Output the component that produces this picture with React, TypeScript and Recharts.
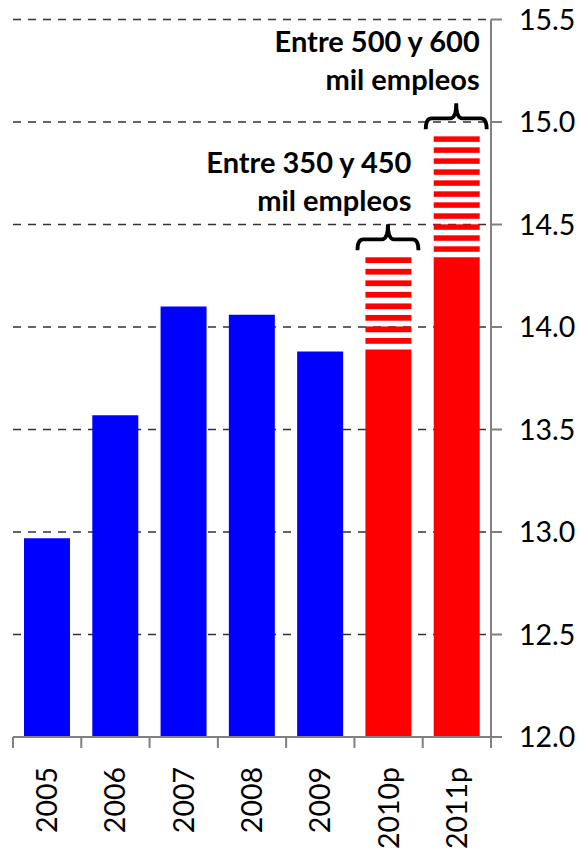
import React from 'react';
import { BarChart, Bar, XAxis, YAxis, CartesianGrid, Cell, LabelList } from 'recharts';

const years = ['2005', '2006', '2007', '2008', '2009', '2010p', '2011p'];
const employment = [12.97, 13.57, 14.1, 14.06, 13.88, 13.89, 14.34];
const rangeSpan = [0, 0, 0, 0, 0, 0.45, 0.59];
const isForecast = [false, false, false, false, false, true, true];
const noteTop = ['', '', '', '', '', 'Entre 350 y 450', 'Entre 500 y 600'];
const noteBottom = ['', '', '', '', '', 'mil empleos', 'mil empleos'];
const yTicks = [12, 12.5, 13, 13.5, 14, 14.5, 15, 15.5];

const BLUE = '#0000ff';
const RED = '#ff0000';
const AXIS = '#808080';
const FONT = 'Lato, "Open Sans", sans-serif';

const data = years.map((year, i) => ({
  year,
  employment: employment[i],
  range: rangeSpan[i],
}));

// red/white horizontal stripes for the forecast range
const StripedBar = (props: any) => {
  const { x, y, width, height } = props;
  if (!height || height <= 0) return null;
  const n = Math.max(1, Math.round(height / 11.3));
  const step = height / n;
  return (
    <g>
      {Array.from({ length: n }, (_, i) => (
        <rect key={i} x={x} y={y + i * step} width={width} height={step * 0.5} fill={RED} />
      ))}
    </g>
  );
};

// curly brace + two-line note above a striped bar
const RangeNote = (props: any) => {
  const { x, y, width, index } = props;
  const top = noteTop[index];
  if (!top) return null;
  const L = x - 8;
  const R = x + width + 7;
  const C = (L + R) / 2;
  const B = y - 7;
  const M = y - 18;
  const T = y - 33;
  const r = 6;
  const d = `M${L},${B} Q${L},${M} ${L + r},${M} L${C - r},${M} Q${C},${M} ${C},${T} Q${C},${M} ${C + r},${M} L${R - r},${M} Q${R},${M} ${R},${B}`;
  return (
    <g>
      <path d={d} fill="none" stroke="#000" strokeWidth={3.8} />
      <text x={x + width} y={y - 84} textAnchor="end" fontSize={29} fontWeight="bold" fontFamily={FONT} fill="#000">
        {top}
      </text>
      <text x={x + width} y={y - 46} textAnchor="end" fontSize={29} fontWeight="bold" fontFamily={FONT} fill="#000">
        {noteBottom[index]}
      </text>
    </g>
  );
};

const YearTick = (props: any) => {
  const { x, y, payload, index } = props;
  const half = payload && payload.offset ? payload.offset : 34;
  const ly = y + 30;
  return (
    <g>
      <line x1={x - half} y1={y} x2={x - half} y2={y + 11} stroke={AXIS} strokeWidth={2} />
      {index === years.length - 1 && (
        <line x1={x + half} y1={y} x2={x + half} y2={y + 11} stroke={AXIS} strokeWidth={2} />
      )}
      <text
        x={x}
        y={ly}
        transform={`rotate(-90 ${x} ${ly})`}
        textAnchor="end"
        dy="0.35em"
        fontSize={28.5}
        fontFamily={FONT}
        fill="#000"
      >
        {payload.value}
      </text>
    </g>
  );
};

export default function App() {
  return (
    <div style={{ position: 'absolute', left: 0, top: 0, background: '#fff' }}>
      <BarChart width={579} height={859} data={data} margin={{ top: 19.5, right: 0, bottom: 0, left: 13 }}>
        <CartesianGrid vertical={false} stroke="#333333" strokeWidth={1.4} strokeDasharray="8 7" />
        <XAxis
          dataKey="year"
          height={122}
          tickSize={0}
          tickMargin={0}
          tickLine={false}
          axisLine={{ stroke: AXIS, strokeWidth: 2 }}
          tick={<YearTick />}
          interval={0}
        />
        <YAxis
          orientation="right"
          width={88}
          domain={[12, 15.5]}
          ticks={yTicks}
          allowDataOverflow
          tickSize={11}
          tickMargin={17}
          tickLine={{ stroke: AXIS, strokeWidth: 2 }}
          axisLine={{ stroke: AXIS, strokeWidth: 2 }}
          tickFormatter={(v: number) => v.toFixed(1)}
          tick={{ fontSize: 28.5, fontFamily: FONT, fill: '#000' }}
        />
        <Bar dataKey="employment" stackId="a" barSize={46} isAnimationActive={false}>
          {data.map((d, i) => (
            <Cell key={d.year} fill={isForecast[i] ? RED : BLUE} />
          ))}
        </Bar>
        <Bar dataKey="range" stackId="a" barSize={46} shape={<StripedBar />} isAnimationActive={false}>
          <LabelList dataKey="range" content={<RangeNote />} />
        </Bar>
      </BarChart>
    </div>
  );
}
